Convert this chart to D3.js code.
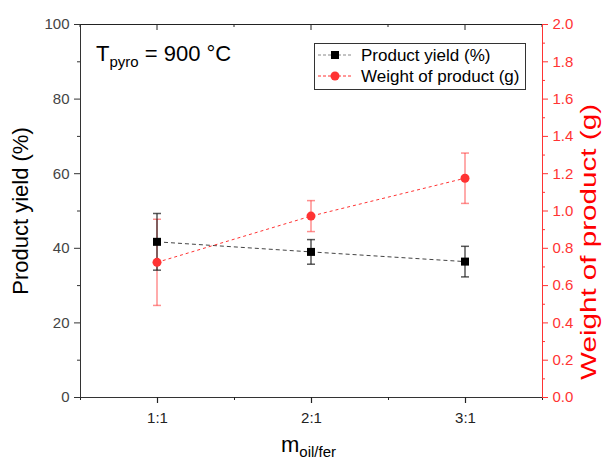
<!DOCTYPE html>
<html><head><meta charset="utf-8">
<script src="https://cdn.jsdelivr.net/npm/d3@7"></script>
<style>body{margin:0;background:#fff;}svg{display:block;font-family:"Liberation Sans",Arial,sans-serif;}</style>
</head><body>
<svg id="c" width="602" height="461"></svg>
<script>
const categories = ["1:1", "2:1", "3:1"];
const catPos = [1, 2, 3];
const yieldVals = [41.6, 38.9, 36.3];
const yieldErr = [7.6, 3.3, 4.1];
const weightVals = [0.722, 0.97, 1.173];
const weightErr = [0.231, 0.083, 0.135];
const leftTicks = [0, 20, 40, 60, 80, 100];
const rightTicks = [0, 0.2, 0.4, 0.6, 0.8, 1.0, 1.2, 1.4, 1.6, 1.8, 2.0];

const RED = "#ff3333";
const svg = d3.select("#c");
const L = 80, R = 542, T = 24, B = 397;
const x = d3.scaleLinear().domain([0.5, 3.5]).range([L, R]);
const yL = d3.scaleLinear().domain([0, 100]).range([B, T]);
const yR = d3.scaleLinear().domain([0, 2]).range([B, T]);

// top frame line
svg.append("line").attr("x1", L).attr("x2", R).attr("y1", T + 0.5).attr("y2", T + 0.5).attr("stroke", "#222").attr("stroke-width", 1.2);
[0.5, 1, 1.5, 2, 2.5, 3, 3.5].forEach(v => {
  svg.append("line").attr("x1", x(v)).attr("x2", x(v)).attr("y1", T).attr("y2", T + (Number.isInteger(v) ? 6 : 3)).attr("stroke", "#222");
});

// bottom axis
const xAxis = d3.axisBottom(x).tickValues(catPos).tickFormat((d, i) => categories[i]).tickSize(6).tickSizeOuter(0);
const gx = svg.append("g").attr("transform", `translate(0,${B})`).call(xAxis);
gx.select(".domain").attr("stroke", "#333").attr("stroke-width", 1.2);
gx.selectAll(".tick line").attr("stroke", "#222").attr("stroke-width", 1.2);
gx.selectAll(".tick text").attr("font-size", 15).attr("fill", "#222").attr("dy", "1.15em");
const gxm = svg.append("g").attr("transform", `translate(0,${B})`).call(d3.axisBottom(x).tickValues([0.5, 1.5, 2.5, 3.5]).tickFormat("").tickSize(3).tickSizeOuter(0));
gxm.select(".domain").remove();
gxm.selectAll(".tick line").attr("stroke", "#222");

// left axis
const gl = svg.append("g").attr("transform", `translate(${L},0)`).call(d3.axisLeft(yL).tickValues(leftTicks).tickSize(6).tickSizeOuter(0));
gl.select(".domain").attr("stroke", "#333");
gl.selectAll(".tick line").attr("stroke", "#333");
gl.selectAll(".tick text").attr("font-size", 15).attr("fill", "#444").attr("dx", "-0.1em");
const glm = svg.append("g").attr("transform", `translate(${L},0)`).call(d3.axisLeft(yL).tickValues([10, 30, 50, 70, 90]).tickFormat("").tickSize(3).tickSizeOuter(0));
glm.select(".domain").remove();
glm.selectAll(".tick line").attr("stroke", "#333");

// right axis
const gr = svg.append("g").attr("transform", `translate(${R},0)`).call(d3.axisRight(yR).tickValues(rightTicks).tickFormat(d3.format(".1f")).tickSize(6).tickSizeOuter(0));
gr.select(".domain").attr("stroke", RED);
gr.selectAll(".tick line").attr("stroke", RED);
gr.selectAll(".tick text").attr("font-size", 15).attr("fill", RED).attr("dx", "0.1em");
const grm = svg.append("g").attr("transform", `translate(${R},0)`).call(d3.axisRight(yR).tickValues(d3.range(0.1, 2, 0.2)).tickFormat("").tickSize(3).tickSizeOuter(0));
grm.select(".domain").remove();
grm.selectAll(".tick line").attr("stroke", RED);

// series lines
const lineY = d3.line().x((d, i) => x(catPos[i])).y(d => yL(d));
const lineW = d3.line().x((d, i) => x(catPos[i])).y(d => yR(d));
svg.append("path").attr("d", lineY(yieldVals)).attr("fill", "none").attr("stroke", "#444").attr("stroke-width", 1).attr("stroke-dasharray", "4,3");
svg.append("path").attr("d", lineW(weightVals)).attr("fill", "none").attr("stroke", RED).attr("stroke-width", 1).attr("stroke-dasharray", "3,3");

// error bars
function errBars(vals, errs, sc, color, op) {
  const g = svg.append("g").attr("stroke", color).attr("stroke-opacity", op).attr("stroke-width", 1.5);
  vals.forEach((v, i) => {
    const cx = x(catPos[i]);
    g.append("line").attr("x1", cx).attr("x2", cx).attr("y1", sc(v - errs[i])).attr("y2", sc(v + errs[i]));
    [v - errs[i], v + errs[i]].forEach(e => g.append("line").attr("x1", cx - 4).attr("x2", cx + 4).attr("y1", sc(e)).attr("y2", sc(e)));
  });
}
errBars(weightVals, weightErr, yR, RED, 0.55);
errBars(yieldVals, yieldErr, yL, "#222", 0.75);

// markers
svg.append("g").selectAll("rect").data(yieldVals).join("rect")
  .attr("x", (d, i) => x(catPos[i]) - 4).attr("y", d => yL(d) - 4).attr("width", 8).attr("height", 8).attr("fill", "#000");
svg.append("g").selectAll("circle").data(weightVals).join("circle")
  .attr("cx", (d, i) => x(catPos[i])).attr("cy", d => yR(d)).attr("r", 4.5).attr("fill", RED);

// legend
const lg = svg.append("g");
lg.append("rect").attr("x", 314.5).attr("y", 43.5).attr("width", 211).attr("height", 46).attr("fill", "#fff").attr("stroke", "#333").attr("stroke-width", 1);
lg.append("line").attr("x1", 318).attr("x2", 352).attr("y1", 55).attr("y2", 55).attr("stroke", "#888").attr("stroke-dasharray", "3,2");
lg.append("rect").attr("x", 331).attr("y", 51).attr("width", 8).attr("height", 8).attr("fill", "#000");
lg.append("text").attr("x", 361).attr("y", 61).attr("font-size", 17).attr("fill", "#000").text("Product yield (%)");
lg.append("line").attr("x1", 318).attr("x2", 352).attr("y1", 76).attr("y2", 76).attr("stroke", RED).attr("stroke-dasharray", "3,2");
lg.append("circle").attr("cx", 335).attr("cy", 76).attr("r", 4.5).attr("fill", RED);
lg.append("text").attr("x", 361).attr("y", 82).attr("font-size", 17).attr("fill", "#000").text("Weight of product (g)");

// annotation
const ann = svg.append("text").attr("x", 96).attr("y", 61).attr("font-size", 22).attr("fill", "#000");
ann.append("tspan").text("T");
ann.append("tspan").attr("font-size", 15).attr("dy", 6).text("pyro");
ann.append("tspan").attr("dy", -6).text(" = 900 °C");

// axis titles
svg.append("text").attr("transform", "translate(28,211) rotate(-90)").attr("text-anchor", "middle").attr("font-size", 22).attr("fill", "#000").text("Product yield (%)");
svg.append("text").attr("transform", "translate(596,242) rotate(-90)").attr("text-anchor", "middle").attr("font-size", 22)
  .attr("textLength", 276).attr("lengthAdjust", "spacingAndGlyphs").attr("fill", "#ff0000").text("Weight of product (g)");
const xt = svg.append("text").attr("x", 281).attr("y", 452).attr("font-size", 22).attr("fill", "#000");
xt.append("tspan").text("m");
xt.append("tspan").attr("font-size", 15).attr("dy", 5).text("oil/fer");
</script>
</body></html>
